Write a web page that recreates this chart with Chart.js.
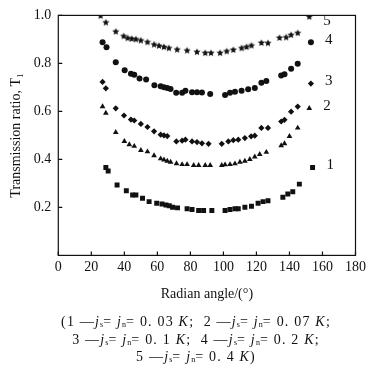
<!DOCTYPE html>
<html>
<head>
<meta charset="utf-8">
<script src="https://cdn.jsdelivr.net/npm/chart.js@4.4.1/dist/chart.umd.min.js"></script>
<style>
  html, body { margin: 0; padding: 0; background: #fff; }
  #wrap { position: relative; width: 370px; height: 373px; }
  #cap {
    position: absolute; left: 0; top: 313px; width: 392px;
    text-align: center; font-family: "Liberation Serif", serif;
    font-size: 14px; line-height: 17.5px; color: #111; letter-spacing: 1.2px;
  }
  #cap sub { font-size: 8px; vertical-align: -1px; line-height: 0; letter-spacing: 0; }
</style>
</head>
<body>
<div id="wrap">
  <canvas id="chart" width="370" height="373"></canvas>
  <div id="cap">
    (1 —<i>j</i><sub>s</sub>= <i>j</i><sub>n</sub>= 0. 03 <i>K</i>; &nbsp;2 —<i>j</i><sub>s</sub>= <i>j</i><sub>n</sub>= 0. 07 <i>K</i>;<br>
    3 —<i>j</i><sub>s</sub>= <i>j</i><sub>n</sub>= 0. 1 <i>K</i>; &nbsp;4 —<i>j</i><sub>s</sub>= <i>j</i><sub>n</sub>= 0. 2 <i>K</i>;<br>
    5 —<i>j</i><sub>s</sub>= <i>j</i><sub>n</sub>= 0. 4 <i>K</i>)
  </div>
</div>
<script>
// radian angle (deg) / transmission ratio
const x1 = [28.8, 30.2, 35.6, 41.2, 45, 47, 51, 55, 59.6, 62.8, 65.2, 67.2, 69.2, 72.2, 78, 81, 85, 88, 93, 101, 104, 107, 109, 113, 117, 121, 124, 127, 136, 139, 142, 146, 154];
const y1 = [0.366, 0.352, 0.293, 0.269, 0.252, 0.252, 0.238, 0.224, 0.217, 0.214, 0.21, 0.207, 0.201, 0.198, 0.194, 0.191, 0.187, 0.187, 0.187, 0.187, 0.191, 0.194, 0.194, 0.201, 0.205, 0.217, 0.224, 0.228, 0.242, 0.256, 0.265, 0.297, 0.366];

const x2 = [26.8, 28.8, 34.8, 40, 43, 46, 50, 54, 58, 62, 64, 66, 68, 71.6, 75, 78, 82, 85, 89, 92, 99, 101, 104, 107, 110, 113, 116, 119, 122, 126, 135, 137, 140, 145, 152];
const y2 = [0.62, 0.593, 0.513, 0.475, 0.462, 0.455, 0.438, 0.432, 0.416, 0.403, 0.398, 0.393, 0.389, 0.383, 0.379, 0.379, 0.375, 0.375, 0.375, 0.375, 0.375, 0.378, 0.379, 0.382, 0.389, 0.393, 0.4, 0.411, 0.421, 0.43, 0.458, 0.466, 0.496, 0.531, 0.613];

const x3 = [26.8, 28.8, 34.8, 39.8, 44, 46, 50, 54, 58, 62, 64, 66, 71.5, 75, 77, 81, 84, 87, 91, 99, 103, 106, 109, 113, 116.8, 119, 123, 127, 135, 137, 141, 145, 153];
const y3 = [0.723, 0.696, 0.613, 0.583, 0.566, 0.562, 0.548, 0.535, 0.517, 0.503, 0.5, 0.497, 0.475, 0.478, 0.482, 0.475, 0.472, 0.467, 0.465, 0.465, 0.475, 0.48, 0.482, 0.489, 0.496, 0.499, 0.531, 0.531, 0.558, 0.565, 0.599, 0.62, 0.716];

const x4 = [26.8, 29.2, 34.8, 40.2, 44, 46, 49.2, 53.2, 58.2, 62, 64, 66, 68, 71.4, 75, 77, 81, 84, 87, 92, 101, 104, 107, 111, 115, 119, 123, 126, 135, 137, 141, 145, 153];
const y4 = [0.888, 0.867, 0.805, 0.771, 0.757, 0.753, 0.737, 0.733, 0.709, 0.705, 0.701, 0.697, 0.693, 0.678, 0.678, 0.686, 0.68, 0.68, 0.679, 0.672, 0.668, 0.678, 0.682, 0.686, 0.692, 0.698, 0.719, 0.727, 0.75, 0.755, 0.778, 0.799, 0.888];

const x5 = [25.6, 28.8, 34.8, 39.6, 42, 44.5, 47, 50, 54, 58, 61, 64, 67, 72, 78, 84, 89, 92.5, 98, 102, 106, 111, 114, 117, 123, 127, 134, 138, 141, 145, 152];
const y5 = [0.998, 0.97, 0.932, 0.913, 0.905, 0.902, 0.9, 0.895, 0.888, 0.878, 0.873, 0.868, 0.863, 0.857, 0.853, 0.847, 0.843, 0.843, 0.843, 0.85, 0.856, 0.863, 0.868, 0.874, 0.885, 0.884, 0.906, 0.908, 0.918, 0.926, 0.994];

const seriesNames = ["1", "2", "3", "4", "5"];
const xTicks = [0, 20, 40, 60, 80, 100, 120, 140, 160, 180];
const yTicks = [0.2, 0.4, 0.6, 0.8, 1.0];

const INK = "#111";
const FONT = "Liberation Serif";

// small filled star, chart.js own 'star' is only an asterisk
function makeStar(r) {
    const c = document.createElement("canvas");
    const s = Math.ceil(r * 2 + 2);
    c.width = s; c.height = s;
    const g = c.getContext("2d");
    g.fillStyle = INK;
    g.beginPath();
    for (let i = 0; i < 10; i++) {
        const rad = i % 2 === 0 ? r : r * 0.45;
        const a = -Math.PI / 2 + i * Math.PI / 5;
        g.lineTo(s / 2 + rad * Math.cos(a), s / 2 + rad * Math.sin(a));
    }
    g.closePath();
    g.fill();
    return c;
}

function pts(xs, ys) {
    return xs.map((x, i) => ({x: x, y: ys[i]}));
}

const styles = [
    {pointStyle: "rect", pointRadius: 3.5},
    {pointStyle: "triangle", pointRadius: 3.3},
    {pointStyle: "rectRot", pointRadius: 3.1},
    {pointStyle: "circle", pointRadius: 3.0},
    {pointStyle: makeStar(3.8), pointRadius: 3.8}
];

const allX = [x1, x2, x3, x4, x5];
const allY = [y1, y2, y3, y4, y5];

const datasets = seriesNames.map((name, i) => ({
    label: name,
    data: pts(allX[i], allY[i]),
    showLine: false,
    backgroundColor: INK,
    borderColor: INK,
    borderWidth: 0,
    pointStyle: styles[i].pointStyle,
    pointRadius: styles[i].pointRadius
}));

// box frame, inward ticks and the curve numbers
const decor = {
    id: "decor",
    afterDraw(chart) {
        const ctx = chart.ctx;
        const a = chart.chartArea;
        const xs = chart.scales.x;
        const ys = chart.scales.y;
        ctx.save();
        ctx.strokeStyle = INK;
        ctx.lineWidth = 1.2;
        ctx.strokeRect(a.left, a.top, a.right - a.left, a.bottom - a.top);
        ctx.beginPath();
        xTicks.forEach(v => {
            const px = xs.getPixelForValue(v);
            ctx.moveTo(px, a.bottom);
            ctx.lineTo(px, a.bottom - 4);
        });
        yTicks.forEach(v => {
            const py = ys.getPixelForValue(v);
            ctx.moveTo(a.left, py);
            ctx.lineTo(a.left + 4, py);
        });
        ctx.stroke();

        ctx.fillStyle = INK;
        ctx.font = "15px " + FONT;
        ctx.textBaseline = "middle";
        chart.data.datasets.forEach((ds, i) => {
            const last = ds.data[ds.data.length - 1];
            const px = xs.getPixelForValue(last.x);
            const py = ys.getPixelForValue(last.y);
            ctx.fillText(seriesNames[i], px + 14, py + (i === 4 ? 4 : -2));
        });
        ctx.restore();
    }
};

new Chart(document.getElementById("chart"), {
    type: "scatter",
    data: {datasets: datasets},
    options: {
        responsive: false,
        animation: false,
        layout: {padding: {top: 13, right: 10, bottom: 66, left: 8}},
        plugins: {legend: {display: false}, tooltip: {enabled: false}},
        scales: {
            x: {
                min: 0, max: 180,
                afterBuildTicks: s => { s.ticks = xTicks.map(v => ({value: v})); },
                grid: {display: false, drawTicks: false},
                border: {display: false},
                ticks: {color: INK, font: {family: FONT, size: 14}, padding: 4, maxRotation: 0},
                title: {display: true, text: "Radian angle/(°)", color: INK,
                        font: {family: FONT, size: 14}, padding: {top: 6}}
            },
            y: {
                min: 0, max: 1,
                afterBuildTicks: s => { s.ticks = yTicks.map(v => ({value: v})); },
                grid: {display: false, drawTicks: false},
                border: {display: false},
                ticks: {color: INK, font: {family: FONT, size: 14}, padding: 7,
                        callback: v => v.toFixed(1)},
                title: {display: true, text: "Transmission ratio, T₁", color: INK,
                        font: {family: FONT, size: 14}, padding: {top: 0, bottom: 2}}
            }
        }
    },
    plugins: [decor]
});
</script>
</body>
</html>
